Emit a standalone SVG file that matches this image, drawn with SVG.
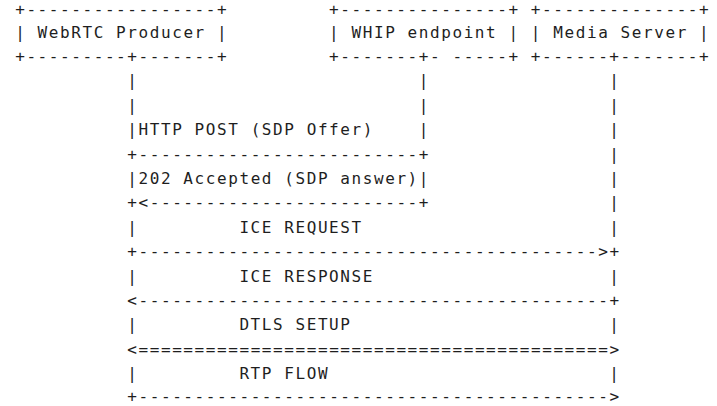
<svg xmlns="http://www.w3.org/2000/svg" width="717" height="406" viewBox="0 0 717 406">
  <style>
    text { font-family: "DejaVu Sans Mono", "Liberation Mono", monospace; font-size: 16px; letter-spacing: 1.58px; fill: #1e1e1e; white-space: pre; }
  </style>
  <rect width="717" height="406" fill="#ffffff"/>

  <!-- Character grid: column c starts at x = 15.2 + 11.21*c, row r baseline at 13.2 + 24.4*r -->

  <g id="producer">
    <text x="15.2" y="15.0">+-----------------+</text>
    <text x="15.2" y="37.6">| WebRTC Producer |</text>
    <text x="15.2" y="62.0">+---------+-------+</text>
  </g>

  <g id="whip-endpoint">
    <text x="329.08" y="15.0">+---------------+</text>
    <text x="329.08" y="37.6">| WHIP endpoint |</text>
    <text x="329.08" y="62.0">+-------+- -----+</text>
  </g>

  <g id="media-server">
    <text x="530.86" y="15.0">+--------------+</text>
    <text x="530.86" y="37.6">| Media Server |</text>
    <text x="530.86" y="62.0">+------+-------+</text>
  </g>

  <g id="lifelines">
    <!-- producer -->
    <text x="127.3" y="86.4">|</text>
    <text x="127.3" y="110.8">|</text>
    <text x="127.3" y="135.2">|</text>
    <text x="127.3" y="184.0">|</text>
    <text x="127.3" y="232.8">|</text>
    <text x="127.3" y="281.6">|</text>
    <text x="127.3" y="330.4">|</text>
    <text x="127.3" y="379.2">|</text>
    <!-- WHIP endpoint -->
    <text x="418.76" y="86.4">|</text>
    <text x="418.76" y="110.8">|</text>
    <text x="418.76" y="135.2">|</text>
    <text x="418.76" y="184.0">|</text>
    <!-- media server -->
    <text x="609.33" y="86.4">|</text>
    <text x="609.33" y="110.8">|</text>
    <text x="609.33" y="135.2">|</text>
    <text x="609.33" y="159.6">|</text>
    <text x="609.33" y="184.0">|</text>
    <text x="609.33" y="208.4">|</text>
    <text x="609.33" y="232.8">|</text>
    <text x="609.33" y="281.6">|</text>
    <text x="609.33" y="330.4">|</text>
    <text x="609.33" y="379.2">|</text>
  </g>

  <g id="connectors">
    <!-- HTTP POST (SDP Offer) -->
    <text x="138.51" y="135.2">HTTP POST (SDP Offer)</text>
    <text x="127.3" y="159.6">+-------------------------+</text>
    <!-- 202 Accepted (SDP answer) -->
    <text x="138.51" y="184.0">202 Accepted (SDP answer)</text>
    <text x="127.3" y="208.4">+&lt;------------------------+</text>
    <!-- ICE REQUEST -->
    <text x="239.4" y="232.8">ICE REQUEST</text>
    <text x="127.3" y="257.2">+-----------------------------------------&gt;+</text>
    <!-- ICE RESPONSE -->
    <text x="239.4" y="281.6">ICE RESPONSE</text>
    <text x="127.3" y="306.0">&lt;------------------------------------------+</text>
    <!-- DTLS SETUP -->
    <text x="239.4" y="330.4">DTLS SETUP</text>
    <text x="127.3" y="354.8">&lt;==========================================&gt;</text>
    <!-- RTP FLOW -->
    <text x="239.4" y="379.2">RTP FLOW</text>
    <text x="127.3" y="401.8">+------------------------------------------&gt;</text>
  </g>
</svg>
